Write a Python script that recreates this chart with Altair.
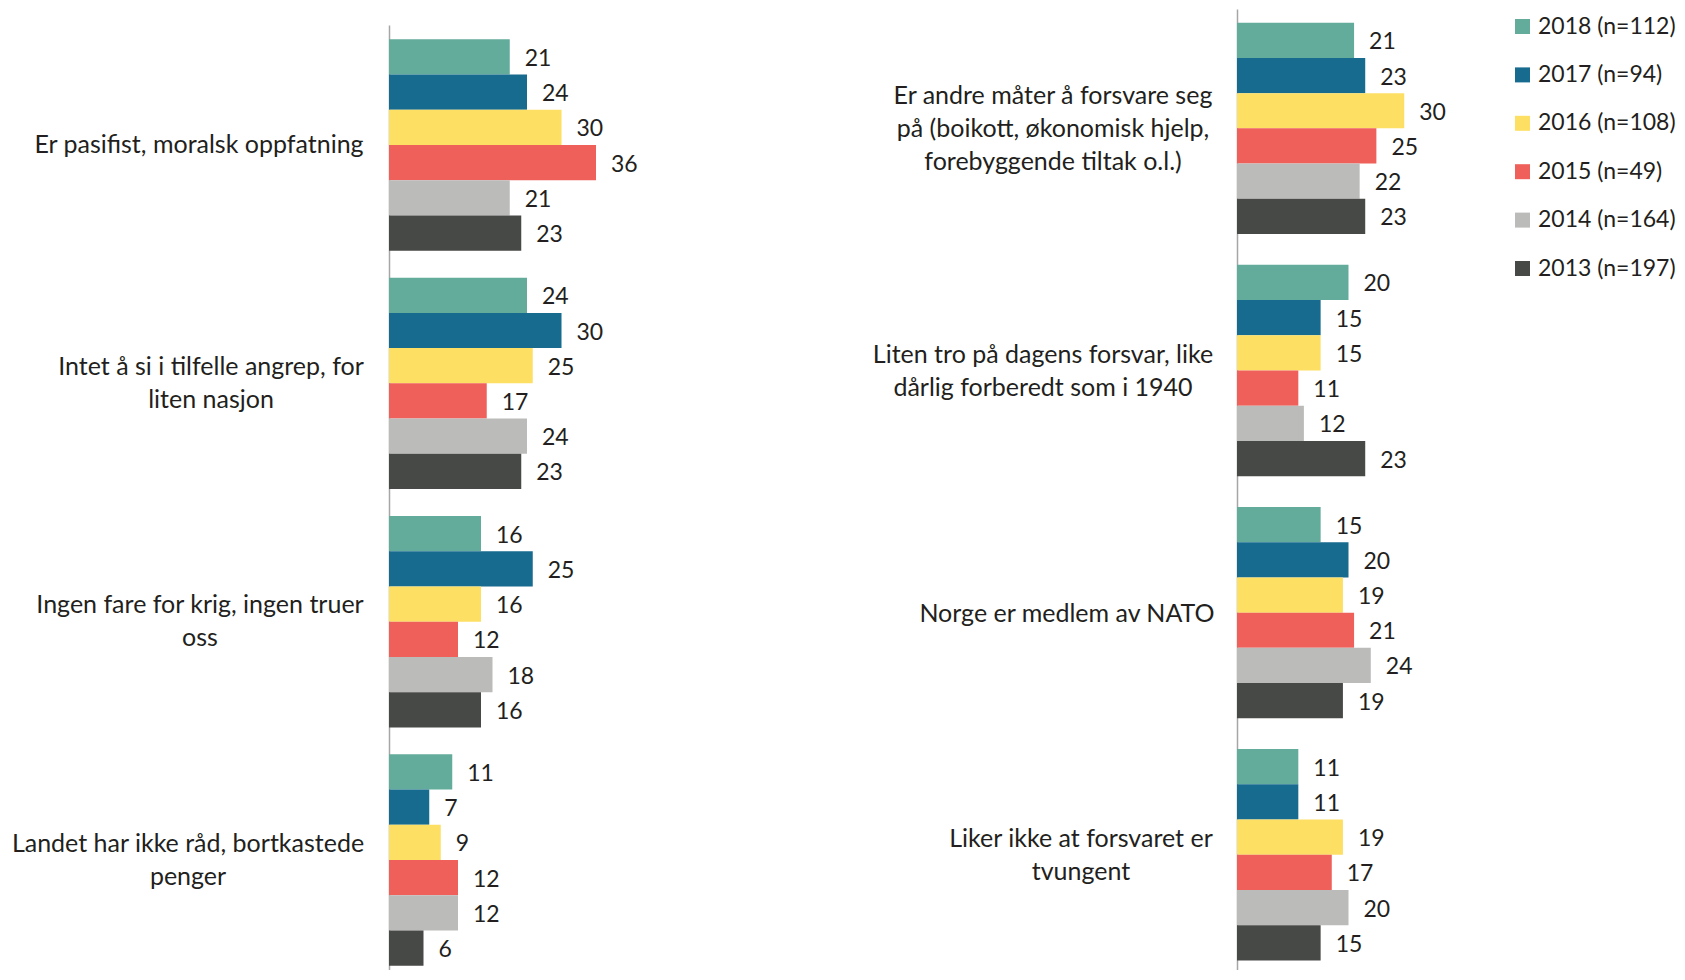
import altair as alt
import pandas as pd

years = ["2018 (n=112)", "2017 (n=94)", "2016 (n=108)", "2015 (n=49)", "2014 (n=164)", "2013 (n=197)"]
colors = ["#63AB9B", "#176B8E", "#FDDF63", "#F0605A", "#BBBCBA", "#474946"]

left_labels = [
    "Er pasifist, moralsk oppfatning",
    "Intet å si i tilfelle angrep, for\nliten nasjon",
    "Ingen fare for krig, ingen truer\noss",
    "Landet har ikke råd, bortkastede\npenger",
]
left_values = [
    [21, 24, 30, 36, 21, 23],
    [24, 30, 25, 17, 24, 23],
    [16, 25, 16, 12, 18, 16],
    [11, 7, 9, 12, 12, 6],
]

right_labels = [
    "Er andre måter å forsvare seg\npå (boikott, økonomisk hjelp,\nforebyggende tiltak o.l.)",
    "Liten tro på dagens forsvar, like\ndårlig forberedt som i 1940",
    "Norge er medlem av NATO",
    "Liker ikke at forsvaret er\ntvungent",
]
right_values = [
    [21, 23, 30, 25, 22, 23],
    [20, 15, 15, 11, 12, 23],
    [15, 20, 19, 21, 24, 19],
    [11, 11, 19, 17, 20, 15],
]

FONT = "Lato"
TXT = "#231F20"
H = 961
LINE_H = 33
LEFT_RULE = -381


def panel(labels, values, width, yscale, label_dx, rule_left, rule_right=None):
    rows = [
        {"cat": c, "year": yr, "value": v}
        for c, vals in zip(labels, values)
        for yr, v in zip(years, vals)
    ]
    df = pd.DataFrame(rows)
    cats = pd.DataFrame({"cat": labels, "idx": list(range(len(labels)))})

    y = alt.Y(
        "cat:N",
        scale=alt.Scale(domain=labels, **yscale),
        axis=alt.Axis(labels=False, ticks=False, title=None, domainColor="#A6A6A6", domainWidth=1.5),
    )
    yoff = alt.YOffset("year:N", scale=alt.Scale(domain=years, paddingInner=0, paddingOuter=0))
    x = alt.X("value:Q", scale=alt.Scale(domain=[0, 40]), axis=None)
    color = alt.Color(
        "year:N",
        scale=alt.Scale(domain=years, range=colors),
        legend=alt.Legend(
            title=None,
            orient="none",
            legendX=1503 + LEFT_RULE,
            legendY=6,
            symbolType="square",
            symbolSize=225,
            symbolStrokeWidth=0,
            labelFont=FONT,
            labelFontSize=23,
            labelColor=TXT,
            rowPadding=24.4,
            padding=0,
            labelOffset=4,
            labelLimit=300,
        ),
    )

    base = alt.Chart(df)
    bars = base.mark_bar().encode(y=y, yOffset=yoff, x=x, color=color)
    vals = base.mark_text(
        align="left", baseline="middle", dx=15, dy=2, font=FONT, fontSize=23, color=TXT
    ).encode(y=y, yOffset=yoff, x=x, text="value:Q")

    layers = [bars, vals]
    for i, (lab, dx) in enumerate(zip(labels, label_dx)):
        n_lines = lab.count("\n") + 1
        layers.append(
            alt.Chart(cats)
            .transform_filter(alt.datum.idx == i)
            .mark_text(
                align="center", baseline="middle", lineBreak="\n", lineHeight=LINE_H,
                font=FONT, fontSize=25, color=TXT, dx=dx, dy=-(n_lines - 1) * LINE_H / 2,
            )
            .encode(y=y, x=alt.value(0), text="cat:N")
        )
    layers.append(
        alt.Chart(cats).mark_rule(opacity=0).encode(
            x=alt.value(rule_left), y=alt.value(0), y2=alt.value(2)
        )
    )
    if rule_right is not None:
        layers.append(
            alt.Chart(cats).mark_rule(opacity=0).encode(
                x=alt.value(rule_right), y=alt.value(0), y2=alt.value(2)
            )
        )
    return alt.layer(*layers).properties(width=width, height=H)


left = panel(
    left_labels, left_values, 230,
    dict(range=[16, H], paddingInner=0.113, paddingOuter=0.039, align=0.77),
    [-190, -178, -189, -201], LEFT_RULE, 300,
)
right = panel(
    right_labels, right_values, 223,
    dict(range=[0, H], paddingInner=0.118, paddingOuter=0.0434, align=0.65),
    [-184, -194, -170, -156], -548,
)

chart = (
    alt.hconcat(left, right, spacing=0)
    .properties(padding={"left": 0, "top": 1, "right": 0, "bottom": 0})
    .configure_view(stroke=None)
)

chart.save("out.html", embed_options={"renderer": "svg", "actions": False})
